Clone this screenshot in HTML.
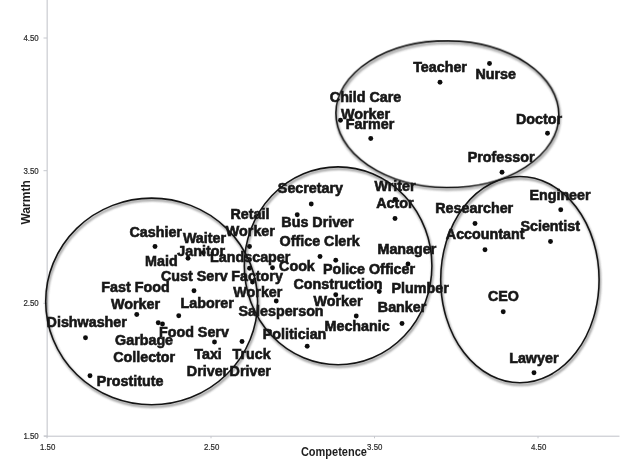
<!DOCTYPE html>
<html><head><meta charset="utf-8"><title>Warmth and Competence</title>
<style>
html,body{margin:0;padding:0;background:#fff;}
svg{display:block;}
.lbl{font-family:"Liberation Sans",Arial,sans-serif;font-weight:bold;font-size:14.3px;fill:#161616;stroke:#161616;stroke-width:0.6px;}
.tick{font-family:"Liberation Sans",Arial,sans-serif;font-size:8.8px;fill:#2a2a2a;stroke:#2a2a2a;stroke-width:0.2px;}
.axt{font-family:"Liberation Sans",Arial,sans-serif;font-weight:bold;font-size:12px;fill:#1e1e1e;}
</style></head><body>
<svg width="640" height="467" viewBox="0 0 640 467">
<defs><filter id="sh" x="-10%" y="-10%" width="120%" height="120%"><feGaussianBlur stdDeviation="1.0"/></filter>
<filter id="soft"><feGaussianBlur stdDeviation="0.45"/></filter></defs>
<rect width="640" height="467" fill="#fff"/>
<g stroke="#bfc1c8" stroke-width="1" fill="none">
<line x1="47.15" y1="0" x2="47.15" y2="437.5"/>
<line x1="44" y1="436.2" x2="619.5" y2="436.2"/>
</g>
<g stroke="#c6c8ce" stroke-width="1" fill="none">
<line x1="43.5" y1="38" x2="47" y2="38"/><line x1="43.5" y1="170.7" x2="47" y2="170.7"/><line x1="43.5" y1="303.3" x2="47" y2="303.3"/><line x1="43.5" y1="436" x2="47" y2="436"/>
<line x1="47" y1="436" x2="47" y2="438.3"/><line x1="211" y1="436" x2="211" y2="438.3"/><line x1="374.5" y1="436" x2="374.5" y2="438.3"/><line x1="538" y1="436" x2="538" y2="438.3"/>
</g>

<text class="tick" x="23.4" y="41.0" textLength="15.3" lengthAdjust="spacingAndGlyphs">4.50</text>
<text class="tick" x="23.4" y="173.7" textLength="15.3" lengthAdjust="spacingAndGlyphs">3.50</text>
<text class="tick" x="23.4" y="306.3" textLength="15.3" lengthAdjust="spacingAndGlyphs">2.50</text>
<text class="tick" x="23.4" y="438.8" textLength="15.3" lengthAdjust="spacingAndGlyphs">1.50</text>
<text class="tick" x="40" y="449.5" textLength="15.3" lengthAdjust="spacingAndGlyphs">1.50</text>
<text class="tick" x="204" y="449.5" textLength="15.3" lengthAdjust="spacingAndGlyphs">2.50</text>
<text class="tick" x="367.1" y="449.5" textLength="15.3" lengthAdjust="spacingAndGlyphs">3.50</text>
<text class="tick" x="531" y="449.5" textLength="15.3" lengthAdjust="spacingAndGlyphs">4.50</text>
<text class="axt" x="300.9" y="455.5" textLength="66" lengthAdjust="spacingAndGlyphs">Competence</text>
<text class="axt" transform="translate(29.9,224.6) rotate(-90)" textLength="44.4" lengthAdjust="spacingAndGlyphs">Warmth</text>
<g fill="none" stroke="#6e6e6e" stroke-width="2" filter="url(#sh)" opacity="0.8">
<ellipse cx="152.55" cy="303.45" rx="105.95" ry="103.35" transform="rotate(0 151.65 301.45)"/>
<ellipse cx="339.0" cy="267.75" rx="93.8" ry="98.9" transform="rotate(0 338.1 265.75)"/>
<ellipse cx="448.3" cy="116.2" rx="111.5" ry="73.3" transform="rotate(0.7 447.4 114.2)"/>
<ellipse cx="520.8" cy="281.65" rx="79.2" ry="103.15" transform="rotate(0 519.9 279.65)"/>
</g>
<g fill="none" stroke="#141414" stroke-width="1.55">
<ellipse cx="151.65" cy="301.45" rx="105.95" ry="103.35" transform="rotate(0 151.65 301.45)"/>
<ellipse cx="338.1" cy="265.75" rx="93.8" ry="98.9" transform="rotate(0 338.1 265.75)"/>
<ellipse cx="447.4" cy="114.2" rx="111.5" ry="73.3" transform="rotate(0.7 447.4 114.2)"/>
<ellipse cx="519.9" cy="279.65" rx="79.2" ry="103.15" transform="rotate(0 519.9 279.65)"/>
</g>
<g fill="#111" filter="url(#soft)">
<circle cx="155" cy="246.55" r="2.45"/>
<circle cx="188" cy="258.3" r="2.45"/>
<circle cx="194" cy="290.8" r="2.45"/>
<circle cx="136.75" cy="314.55" r="2.45"/>
<circle cx="85.5" cy="337.8" r="2.45"/>
<circle cx="158.25" cy="322.8" r="2.45"/>
<circle cx="162.5" cy="324.05" r="2.45"/>
<circle cx="178.75" cy="315.8" r="2.45"/>
<circle cx="90" cy="375.8" r="2.45"/>
<circle cx="249.5" cy="246.55" r="2.45"/>
<circle cx="203.25" cy="252.8" r="2.45"/>
<circle cx="249.5" cy="268.3" r="2.45"/>
<circle cx="252.5" cy="282.05" r="2.45"/>
<circle cx="272.5" cy="267.8" r="2.45"/>
<circle cx="276.25" cy="301.05" r="2.45"/>
<circle cx="297.25" cy="214.7" r="2.45"/>
<circle cx="214.5" cy="342.05" r="2.45"/>
<circle cx="242" cy="341.55" r="2.45"/>
<circle cx="307.2" cy="346.3" r="2.45"/>
<circle cx="311.25" cy="204.05" r="2.45"/>
<circle cx="320" cy="256.55" r="2.45"/>
<circle cx="335.75" cy="260.3" r="2.45"/>
<circle cx="395" cy="199.55" r="2.45"/>
<circle cx="395" cy="218.55" r="2.45"/>
<circle cx="408" cy="264.05" r="2.45"/>
<circle cx="335.75" cy="294.8" r="2.45"/>
<circle cx="356.25" cy="316.05" r="2.45"/>
<circle cx="379.25" cy="291.55" r="2.45"/>
<circle cx="402" cy="323.55" r="2.45"/>
<circle cx="475" cy="223.55" r="2.45"/>
<circle cx="485" cy="249.7" r="2.45"/>
<circle cx="502" cy="172.3" r="2.45"/>
<circle cx="560.75" cy="209.8" r="2.45"/>
<circle cx="550.5" cy="241.55" r="2.45"/>
<circle cx="503.25" cy="311.8" r="2.45"/>
<circle cx="534" cy="372.8" r="2.45"/>
<circle cx="440" cy="82.3" r="2.45"/>
<circle cx="340.5" cy="120.3" r="2.45"/>
<circle cx="370.75" cy="138.55" r="2.45"/>
<circle cx="489.5" cy="63.55" r="2.45"/>
<circle cx="547.5" cy="133.3" r="2.45"/>
</g>
<g class="lbl" filter="url(#soft)">
<text x="129.47" y="236.95">Cashier</text>
<text x="145.08" y="266.2">Maid</text>
<text x="101.33" y="291.95">Fast Food</text>
<text x="110.97" y="309.45">Worker</text>
<text x="46.62" y="327.45">Dishwasher</text>
<text x="115.07" y="345.2">Garbage</text>
<text x="113.21" y="361.95">Collector</text>
<text x="96.78" y="386.2">Prostitute</text>
<text x="158.97" y="336.95">Food Serv</text>
<text x="230.55" y="219.45">Retail</text>
<text x="225.85" y="235.7">Worker</text>
<text x="182.89" y="243.2">Waiter</text>
<text x="177.29" y="256.2">Janitor</text>
<text x="210.12" y="261.95">Landscaper</text>
<text x="160.98" y="280.7">Cust Serv</text>
<text x="231.23" y="280.7">Factory</text>
<text x="233.35" y="297.45">Worker</text>
<text x="180.5" y="308.2">Laborer</text>
<text x="238.59" y="316.2">Salesperson</text>
<text x="194.27" y="358.7">Taxi</text>
<text x="232.46" y="358.7">Truck</text>
<text x="186.84" y="376.2">Driver</text>
<text x="229.59" y="376.2">Driver</text>
<text x="262.8" y="339.2">Politician</text>
<text x="277.86" y="193.2">Secretary</text>
<text x="281.34" y="227.45">Bus Driver</text>
<text x="279.57" y="246.45">Office Clerk</text>
<text x="279.08" y="271.2">Cook</text>
<text x="322.91" y="273.7">Police Officer</text>
<text x="374.57" y="190.7">Writer</text>
<text x="376.14" y="208.2">Actor</text>
<text x="377.48" y="254.45">Manager</text>
<text x="293.54" y="288.7">Construction</text>
<text x="313.47" y="305.7">Worker</text>
<text x="324.52" y="330.7">Mechanic</text>
<text x="391.5" y="293.2">Plumber</text>
<text x="377.84" y="312.45">Banker</text>
<text x="435.29" y="213.2">Researcher</text>
<text x="445.83" y="239.45">Accountant</text>
<text x="467.75" y="161.95">Professor</text>
<text x="529.41" y="199.95">Engineer</text>
<text x="520.46" y="231.2">Scientist</text>
<text x="487.9" y="301.2">CEO</text>
<text x="509.19" y="362.8">Lawyer</text>
<text x="413.14" y="72.45">Teacher</text>
<text x="329.82" y="101.95">Child Care</text>
<text x="340.97" y="119.45">Worker</text>
<text x="345.76" y="128.95">Farmer</text>
<text x="475.5" y="78.7">Nurse</text>
<text x="515.96" y="123.7">Doctor</text>
</g>
</svg></body></html>
